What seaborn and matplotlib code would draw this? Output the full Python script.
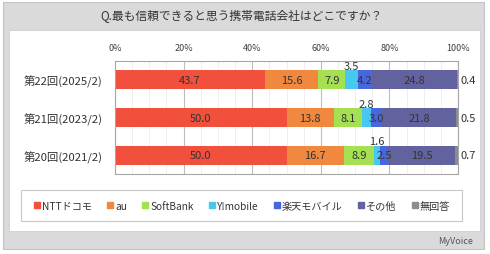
import numpy as np
import pandas as pd
import matplotlib
matplotlib.use("Agg")
import matplotlib.pyplot as plt
from matplotlib.patches import Rectangle
from matplotlib.lines import Line2D
import seaborn as sns

sns.set_theme(style="white")
plt.rcParams['font.family'] = ['Noto Sans CJK JP', 'DejaVu Sans']

title = "Q.最も信頼できると思う携帯電話会社はどこですか？"
rounds = ["第22回(2025/2)", "第21回(2023/2)", "第20回(2021/2)"]
carriers = ["NTTドコモ", "au", "SoftBank", "Y!mobile", "楽天モバイル", "その他", "無回答"]
docomo = [43.7, 50.0, 50.0]
au = [15.6, 13.8, 16.7]
softbank = [7.9, 8.1, 8.9]
ymobile = [3.5, 2.8, 1.6]
rakuten = [4.2, 3.0, 2.5]
other = [24.8, 21.8, 19.5]
noanswer = [0.4, 0.5, 0.7]
xticks = [0, 20, 40, 60, 80, 100]
colors = ["#f0503c", "#f08840", "#a4e052", "#48c8f0", "#4a66dc", "#62629e", "#8c8c8c"]

series = [docomo, au, softbank, ymobile, rakuten, other, noanswer]
vals = np.array(series)  # shape (7, 3)
cum = np.cumsum(vals, axis=0)

W, H = 490, 255
fig = plt.figure(figsize=(W / 100, H / 100), dpi=100)
fig.patch.set_facecolor("white")

def px_rect(x0, y0, x1, y1, **kw):
    r = Rectangle((x0 / W, 1 - y1 / H), (x1 - x0) / W, (y1 - y0) / H,
                  transform=fig.transFigure, figure=fig, **kw)
    fig.patches.append(r)
    return r

px_rect(3, 3, 484, 250, facecolor="#dadada", edgecolor="#c4c4c4", lw=0.8)
px_rect(9, 31, 480, 232, facecolor="white", edgecolor="#d0d0d0", lw=0.6)
px_rect(21, 191, 462, 222, facecolor="white", edgecolor="#c8c8c8", lw=0.8)

fig.text(241 / W, 1 - 16 / H, title, ha="center", va="center", fontsize=8.5, color="#333333")

ax = fig.add_axes([115 / W, 1 - 175 / H, 343 / W, 113 / H])
ax.set_zorder(2)

# stacked bars: draw cumulative totals from widest to narrowest
for i in range(len(carriers) - 1, -1, -1):
    df = pd.DataFrame({"round": rounds, "value": cum[i]})
    sns.barplot(data=df, x="value", y="round", order=rounds, color=colors[i],
                saturation=1, width=0.5, ax=ax, orient="h", linewidth=0)

ax.set_xlim(0, 100)
ax.set_ylim(2.5, -0.5)
ax.set_xticks(xticks)
ax.set_xticklabels([f"{t}%" for t in xticks])
ax.set_xticks(np.arange(0, 101, 5), minor=True)
ax.xaxis.tick_top()
ax.tick_params(axis="x", which="both", length=0, pad=6.5, labelsize=6.5, labelcolor="#404040")
ax.tick_params(axis="y", length=0, pad=9, labelsize=8.2, labelcolor="#333333")
ax.grid(axis="x", which="minor", color="#ececec", lw=0.6)
ax.grid(axis="x", which="major", color="#bdbdbd", lw=0.8)
ax.set_axisbelow(True)
ax.set_xlabel("")
ax.set_ylabel("")
for s in ax.spines.values():
    s.set_color("#a6a6a6")
    s.set_linewidth(0.8)

# labels
fs = 8
for j in range(len(rounds)):
    for i in range(len(carriers)):
        v = vals[i, j]
        left = cum[i, j] - v
        if i == len(carriers) - 1:
            ax.text(100.6, j, f"{v:.1f}", ha="left", va="center", fontsize=fs, color="#333333", clip_on=False)
        elif i == 3:
            ax.text(left + v / 2, j - 0.37, f"{v:.1f}", ha="center", va="center", fontsize=fs, color="#333333")
        else:
            ax.text(left + v / 2, j, f"{v:.1f}", ha="center", va="center", fontsize=fs, color="#333333")

handles = [Line2D([0], [0], marker="s", ls="none", markersize=4.5, markerfacecolor=c,
                  markeredgecolor=c) for c in colors]
fig.legend(handles, carriers, loc="center", bbox_to_anchor=(242 / W, 1 - 206.5 / H),
           ncol=7, frameon=False, fontsize=7.3, handlelength=0.6, handletextpad=0.2,
           columnspacing=1.5, labelcolor="#333333")

fig.text(473 / W, 1 - 242 / H, "MyVoice", ha="right", va="center", fontsize=6.5,
         color="#555555", style="italic")

fig.savefig("out.png", dpi=100, facecolor=fig.get_facecolor())
